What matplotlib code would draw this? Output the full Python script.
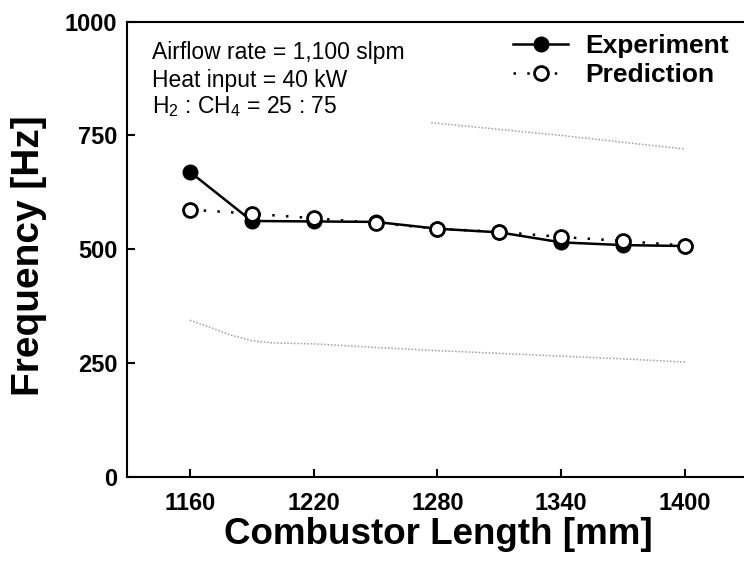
import matplotlib
matplotlib.use('Agg')
import matplotlib.pyplot as plt

# combustor length [mm]
length = [1160, 1190, 1220, 1250, 1280, 1310, 1340, 1370, 1400]
experiment = [670, 562, 561, 560, 545, 537, 515, 509, 507]
prediction = [587, 578, 568, 558, 545, 538, 527, 518, 508]

# faint gray reference curves
upperLength = [1277, 1340, 1400]
upperFreq = [778, 750, 720]
lowerLength = [1160, 1170, 1180, 1190, 1200, 1220, 1250, 1280, 1310, 1340, 1370, 1400]
lowerFreq = [344, 328, 311, 299, 294, 292, 284, 277, 271, 265, 259, 252]

xTicks = [1160, 1220, 1280, 1340, 1400]
yTicks = [0, 250, 500, 750, 1000]

notes = ['Airflow rate = 1,100 slpm',
         'Heat input = 40 kW',
         r'H$\mathregular{_2}$ : CH$\mathregular{_4}$ = 25 : 75']

plt.rcParams['font.family'] = ['Liberation Sans', 'DejaVu Sans']
plt.rcParams['mathtext.fontset'] = 'custom'
plt.rcParams['mathtext.rm'] = 'Liberation Sans'

W, H = 744, 571
fig = plt.figure(figsize=(W/100, H/100), dpi=100)
left, right, top, bottom = 127, 750, 21.7, 476.7
ax = fig.add_axes([left/W, 1-bottom/H, (right-left)/W, (bottom-top)/H])

ax.plot(upperLength, upperFreq, color='#a0a0a0', lw=1.1, ls=(0, (1, 1.2)))
ax.plot(lowerLength, lowerFreq, color='#a0a0a0', lw=1.1, ls=(0, (1, 1.2)))

ax.plot(length, experiment, color='black', lw=1.8, marker='o', ms=10,
        mfc='black', mec='black', mew=1.5, label='Experiment', zorder=3)
ax.plot(length, prediction, color='black', lw=1.8, ls=(0, (1, 4.5)), marker='o', ms=10,
        mfc='white', mec='black', mew=2, label='Prediction', zorder=4)

ax.set_xlim(1129.5, 1431.5)
ax.set_ylim(0, 1000)
ax.set_xticks(xTicks)
ax.set_yticks(yTicks)
ax.tick_params(direction='in', length=6, width=1.5, labelsize=17)
ax.tick_params(axis='x', pad=11)
ax.tick_params(axis='y', pad=7)
for lab in ax.get_xticklabels() + ax.get_yticklabels():
    lab.set_fontweight('bold')
for s in ax.spines.values():
    s.set_linewidth(1.5)

ax.set_xlabel('Combustor Length [mm]', fontsize=26.5, fontweight='bold')
ax.set_ylabel('Frequency [Hz]', fontsize=28, fontweight='bold')
ax.xaxis.set_label_coords(0.5, -0.088)
ax.yaxis.set_label_coords(-0.128, 0.485)

baselines = [59.3, 86.7, 113]
for txt, yb in zip(notes, baselines):
    ax.text((152-left)/(right-left), (bottom-yb)/(bottom-top), txt, transform=ax.transAxes,
            fontsize=16.5, va='baseline', ha='left')

leg = ax.legend(loc='upper left', bbox_to_anchor=(513/W, 1-34/H), bbox_transform=fig.transFigure,
                frameon=False, prop={'weight': 'bold', 'size': 19}, handlelength=2.1,
                handletextpad=0.65, labelspacing=0.2, borderpad=0, borderaxespad=0, numpoints=1)

fig.savefig('out.png', dpi=100)
